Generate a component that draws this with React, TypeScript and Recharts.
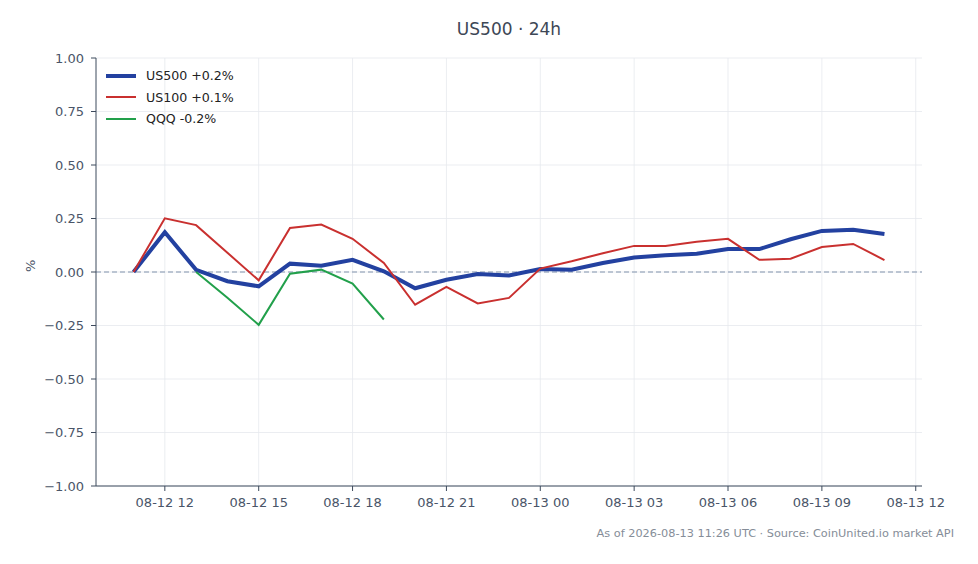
import React from 'react';
import { LineChart, Line, XAxis, YAxis, CartesianGrid, ReferenceLine } from 'recharts';

// hours since 08-12 00:00 UTC
const hours = [11, 12, 13, 14, 15, 16, 17, 18, 19, 20, 21, 22, 23, 24, 25, 26, 27, 28, 29, 30, 31, 32, 33, 34, 35];

const us500 = [0, 0.186, 0.01, -0.043, -0.067, 0.039, 0.029, 0.057, 0.003, -0.076, -0.036, -0.009, -0.016, 0.014, 0.011, 0.042, 0.068, 0.078, 0.085, 0.107, 0.107, 0.153, 0.192, 0.197, 0.178];
const us100 = [0, 0.251, 0.219, 0.09, -0.039, 0.206, 0.222, 0.155, 0.042, -0.153, -0.07, -0.147, -0.121, 0.016, 0.05, 0.088, 0.122, 0.122, 0.141, 0.155, 0.057, 0.062, 0.117, 0.131, 0.056];
const qqq = [null, null, 0, -0.12, -0.247, -0.008, 0.011, -0.054, -0.222, null, null, null, null, null, null, null, null, null, null, null, null, null, null, null, null];

const xTicks = [12, 15, 18, 21, 24, 27, 30, 33, 36];
const xTickLabels = ['08-12 12', '08-12 15', '08-12 18', '08-12 21', '08-13 00', '08-13 03', '08-13 06', '08-13 09', '08-13 12'];
const yTicks = [-1, -0.75, -0.5, -0.25, 0, 0.25, 0.5, 0.75, 1];

const seriesInfo = [
  { key: 'us500', name: 'US500 +0.2%', color: '#2341a0', width: 4 },
  { key: 'us100', name: 'US100 +0.1%', color: '#c9302f', width: 2 },
  { key: 'qqq', name: 'QQQ -0.2%', color: '#22a04b', width: 2 },
];

const data = hours.map((h, i) => ({ h, us500: us500[i], us100: us100[i], qqq: qqq[i] }));

const FONT = '"DejaVu Sans", sans-serif';
const AXIS = '#3d4a5c';
const TICK_TEXT = '#4a5568';

const fmtY = (v: number) => (v < 0 ? '\u2212' + Math.abs(v).toFixed(2) : v.toFixed(2));
const fmtX = (v: number) => xTickLabels[xTicks.indexOf(v)] ?? '';

export default function App() {
  return (
    <div style={{ position: 'absolute', left: 0, top: 0, width: 978, height: 564, background: '#fff', fontFamily: FONT }}>
      <LineChart width={978} height={564} data={data} margin={{ top: 58, right: 56, bottom: 0, left: 0 }}>
        <CartesianGrid stroke="#e6e9ee" strokeWidth={0.8} horizontalValues={yTicks} verticalValues={xTicks} />
        <XAxis
          dataKey="h"
          type="number"
          domain={[9.8, 36.2]}
          ticks={xTicks}
          tickFormatter={fmtX}
          height={78}
          stroke={AXIS}
          tickSize={5}
          tickMargin={7}
          tick={{ fill: TICK_TEXT, fontSize: 13, fontFamily: FONT }}
          interval={0}
          allowDataOverflow
        />
        <YAxis
          type="number"
          domain={[-1, 1]}
          ticks={yTicks}
          tickFormatter={fmtY}
          width={96}
          stroke={AXIS}
          tickSize={5}
          tickMargin={7}
          tick={{ fill: TICK_TEXT, fontSize: 13, fontFamily: FONT }}
          interval={0}
          allowDataOverflow
          label={{ value: '%', angle: -90, position: 'insideLeft', offset: 30, fill: TICK_TEXT, fontSize: 13, fontFamily: FONT }}
        />
        <ReferenceLine y={0} stroke="#8294ad" strokeWidth={1} strokeDasharray="5 3" />
        {seriesInfo.map(s => (
          <Line
            key={s.key}
            type="linear"
            dataKey={s.key}
            name={s.name}
            stroke={s.color}
            strokeWidth={s.width}
            dot={false}
            activeDot={false}
            isAnimationActive={false}
          />
        ))}
      </LineChart>

      <div style={{ position: 'absolute', left: 0, width: 1018, top: 19, textAlign: 'center', fontSize: 17, color: '#3d4756' }}>
        US500 · 24h
      </div>

      <div style={{ position: 'absolute', left: 106, top: 65 }}>
        {seriesInfo.map(s => (
          <div key={s.key} style={{ display: 'flex', alignItems: 'center', height: 21.5 }}>
            <div style={{ width: 30, height: s.width === 4 ? 4 : 2, background: s.color, marginRight: 10 }} />
            <span style={{ fontSize: 12.6, color: '#222' }}>{s.name}</span>
          </div>
        ))}
      </div>

      <div style={{ position: 'absolute', right: 24, top: 527, fontSize: 11.3, color: '#858d98' }}>
        As of 2026-08-13 11:26 UTC · Source: CoinUnited.io market API
      </div>
    </div>
  );
}
